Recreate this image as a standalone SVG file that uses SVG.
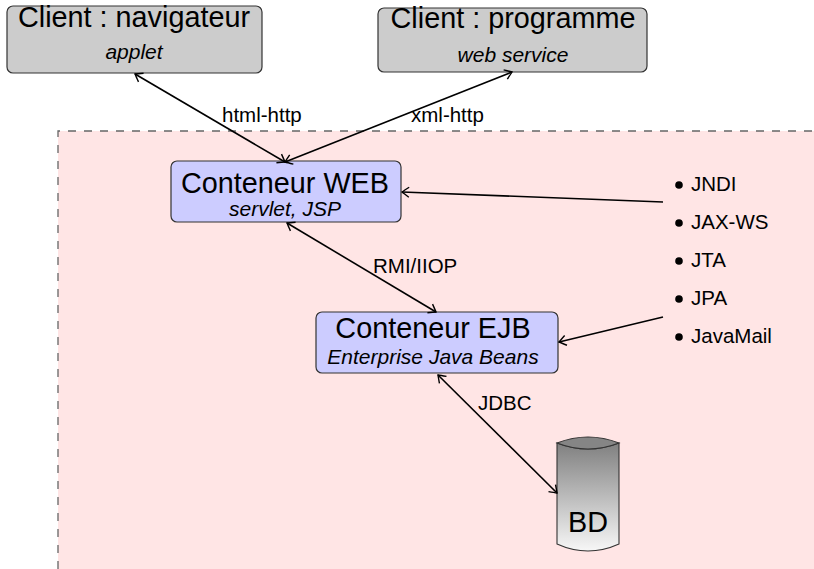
<svg xmlns="http://www.w3.org/2000/svg" width="814" height="569" viewBox="0 0 814 569">
  <defs>
    <style>
      text { font-family: "Liberation Sans", Arial, sans-serif; fill: #000; }
      .title { font-size: 28.8px; text-anchor: middle; }
      .sub { font-size: 21px; font-style: italic; text-anchor: middle; }
      .lbl { font-size: 20.5px; }
      .box { stroke: #333; stroke-width: 1.2; }
      .client { fill: #cccccc; }
      .cont { fill: #ccccff; }
      .conn line { stroke: #000; stroke-width: 1.6; fill: none; }
    </style>
    <marker id="arr" markerUnits="userSpaceOnUse" markerWidth="14" markerHeight="14" viewBox="-10 -7 12 14" refX="0" refY="0" orient="auto-start-reverse">
      <path d="M-7,-5 Q-2,-1.5 0,0 Q-2,1.5 -7,5" fill="none" stroke="#000" stroke-width="1.4"/>
    </marker>
    <linearGradient id="bdGrad" x1="0" y1="0" x2="0" y2="1">
      <stop offset="0" stop-color="#808080"/>
      <stop offset="1" stop-color="#f7f7f7"/>
    </linearGradient>
  </defs>

  <g id="serveur">
    <rect x="58" y="131" width="760" height="442" fill="#ffe5e5"/>
    <path d="M58,569 V131 H814" fill="none" stroke="#666" stroke-width="1.3" stroke-dasharray="8 8"/>
  </g>

  <g id="client-navigateur">
    <rect class="box client" x="7" y="6" width="255" height="67" rx="6"/>
    <text class="title" x="134" y="27">Client : navigateur</text>
    <text class="sub" x="134" y="59">applet</text>
  </g>

  <g id="client-programme">
    <rect class="box client" x="378" y="8" width="269" height="64" rx="6"/>
    <text class="title" x="513" y="28">Client : programme</text>
    <text class="sub" x="513" y="62">web service</text>
  </g>

  <g id="conteneur-web">
    <rect class="box cont" x="171" y="161" width="230" height="61" rx="6"/>
    <text class="title" x="285" y="193">Conteneur WEB</text>
    <text class="sub" x="285" y="216">servlet, JSP</text>
  </g>

  <g id="conteneur-ejb">
    <rect class="box cont" x="316" y="312" width="242" height="61" rx="6"/>
    <text class="title" x="433" y="338">Conteneur EJB</text>
    <text class="sub" x="433" y="364">Enterprise Java Beans</text>
  </g>

  <g id="bd">
    <path d="M557,443 Q588,455 619,443 V544 Q588,558 557,544 Z" fill="url(#bdGrad)" stroke="#333" stroke-width="1.1"/>
    <path d="M557,443 Q588,431 619,443 Q588,455 557,443 Z" fill="#858585" stroke="#333" stroke-width="1.1"/>
    <text class="title" x="588" y="532">BD</text>
  </g>

  <g id="api-list">
    <circle cx="679" cy="185" r="3.8" fill="#000"/>
    <text class="lbl" x="691" y="191">JNDI</text>
    <circle cx="679" cy="223" r="3.8" fill="#000"/>
    <text class="lbl" x="691" y="229">JAX-WS</text>
    <circle cx="679" cy="261" r="3.8" fill="#000"/>
    <text class="lbl" x="691" y="267">JTA</text>
    <circle cx="679" cy="299" r="3.8" fill="#000"/>
    <text class="lbl" x="691" y="305">JPA</text>
    <circle cx="679" cy="337" r="3.8" fill="#000"/>
    <text class="lbl" x="691" y="343">JavaMail</text>
  </g>

  <g id="connectors" class="conn">
    <line x1="135" y1="74" x2="285" y2="162" marker-start="url(#arr)" marker-end="url(#arr)"/>
    <line x1="285" y1="162" x2="512" y2="72" marker-start="url(#arr)" marker-end="url(#arr)"/>
    <line x1="663" y1="202" x2="402" y2="192" marker-end="url(#arr)"/>
    <line x1="287" y1="223" x2="436" y2="312" marker-start="url(#arr)" marker-end="url(#arr)"/>
    <line x1="663" y1="317" x2="559" y2="342" marker-end="url(#arr)"/>
    <line x1="438" y1="375" x2="557" y2="493" marker-start="url(#arr)" marker-end="url(#arr)"/>
    <text class="lbl" x="222" y="122">html-http</text>
    <text class="lbl" x="411" y="122">xml-http</text>
    <text class="lbl" x="373" y="273">RMI/IIOP</text>
    <text class="lbl" x="478" y="410">JDBC</text>
  </g>
</svg>
